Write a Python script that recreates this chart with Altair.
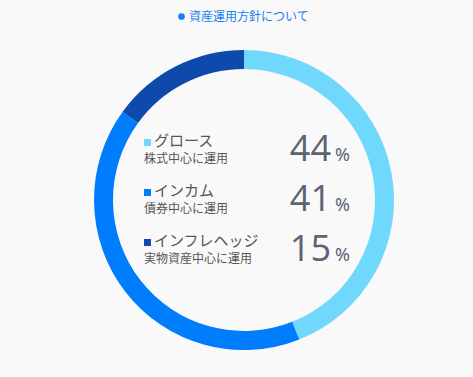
import altair as alt
import pandas as pd

categories = ["グロース", "インカム", "インフレヘッジ"]
subtitles = ["株式中心に運用", "債券中心に運用", "実物資産中心に運用"]
values = [44, 41, 15]
colors = ["#6fd8fc", "#007dfd", "#0d4aab"]
title_text = "資産運用方針について"

df = pd.DataFrame({
    "cat": categories,
    "sub": subtitles,
    "value": values,
    "order": [0, 1, 2],
    "num": [str(v) for v in values],
    "pct": ["%"] * 3,
})

W, H = 473, 377
color_scale = alt.Scale(domain=categories, range=colors)

arc = alt.Chart(df).mark_arc(innerRadius=131, outerRadius=150, stroke=None).encode(
    theta=alt.Theta("value:Q", stack=True),
    order=alt.Order("order:Q"),
    color=alt.Color("cat:N", scale=color_scale, legend=None),
    x=alt.value(244),
    y=alt.value(200),
)


def row_y(off):
    return alt.Y("order:Q", scale=alt.Scale(domain=[0, 2], range=[142 + off, 242 + off], zero=False, nice=False), axis=None)


squares = alt.Chart(df).mark_square(size=49, opacity=1).encode(
    x=alt.value(147.5),
    y=row_y(0.5),
    color=alt.Color("cat:N", scale=color_scale, legend=None),
)

labels = alt.Chart(df).mark_text(
    align="left", baseline="alphabetic", fontSize=15, font="Noto Sans CJK JP", color="#555555"
).encode(x=alt.value(154), y=row_y(4), text="cat:N")

subs = alt.Chart(df).mark_text(
    align="left", baseline="alphabetic", fontSize=12, font="Noto Sans CJK JP", color="#555555"
).encode(x=alt.value(144), y=row_y(21), text="sub:N")

nums = alt.Chart(df).mark_text(
    align="right", baseline="alphabetic", fontSize=36, font="Open Sans", color="#5c6372"
).encode(x=alt.value(331), y=row_y(19), text="num:N")

pcts = alt.Chart(df).mark_text(
    align="left", baseline="alphabetic", fontSize=18, font="Noto Sans", color="#5c6372"
).encode(x=alt.value(335), y=row_y(19), text="pct:N")

tdf = pd.DataFrame({"t": [title_text]})
title_dot = alt.Chart(tdf).mark_circle(size=45, color="#1a7ef0", opacity=1).encode(
    x=alt.value(181.5), y=alt.value(16.5)
)
title = alt.Chart(tdf).mark_text(
    align="left", baseline="middle", fontSize=12, font="Noto Sans CJK JP", color="#1a7ef0"
).encode(x=alt.value(189), y=alt.value(17), text="t:N")

chart = alt.layer(arc, squares, labels, subs, nums, pcts, title_dot, title).properties(
    width=W, height=H, background="#f9f9f9", padding=0,
    autosize=alt.AutoSizeParams(type="none"),
).resolve_scale(y="independent").configure_view(stroke=None)

chart.save("out.html", embed_options={"renderer": "svg", "actions": False})
